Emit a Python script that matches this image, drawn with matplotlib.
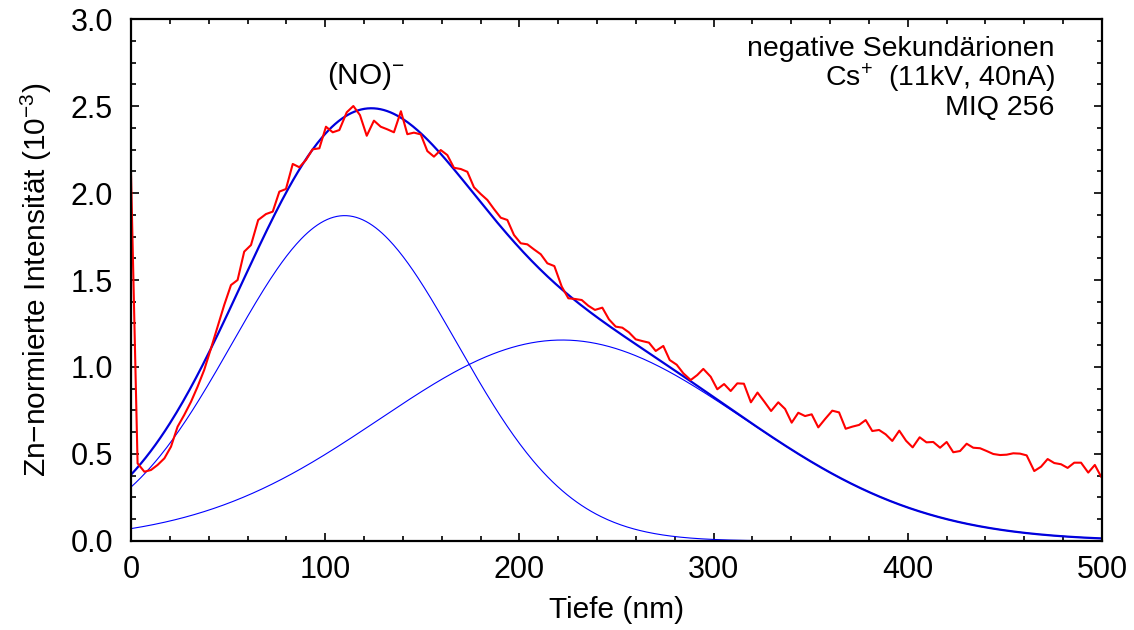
import matplotlib
matplotlib.use("Agg")
import matplotlib.pyplot as plt
import numpy as np
from matplotlib.ticker import MultipleLocator

plt.rcParams['font.family'] = ['Liberation Sans', 'DejaVu Sans']
plt.rcParams['mathtext.fontset'] = 'custom'
plt.rcParams['mathtext.rm'] = 'Liberation Sans'
plt.rcParams['mathtext.it'] = 'Liberation Sans'
plt.rcParams['mathtext.default'] = 'regular'

# Measured profile (depth in nm, normalised intensity in 1e-3)
depth = [0.0, 3.4, 6.9, 10.3, 13.7, 17.2, 20.6, 24.0, 27.4, 30.9, 34.3, 37.7, 41.2,
         44.6, 48.0, 51.5, 54.9, 58.3, 61.8, 65.5, 69.5, 73.0, 76.4, 79.8, 83.3,
         86.7, 90.1, 93.5, 97.0, 100.4, 103.9, 107.3, 111.1, 114.5, 117.9, 121.4,
         125.1, 128.6, 132.0, 135.4, 139.0, 142.3, 145.7, 149.2, 152.6, 156.0,
         159.5, 162.9, 166.3, 169.8, 173.2, 176.6, 180.1, 183.5, 186.9, 190.4,
         193.8, 197.2, 200.7, 204.1, 207.5, 211.0, 214.4, 218.0, 221.8, 225.2,
         228.6, 232.1, 235.5, 238.9, 242.7, 246.1, 249.6, 253.0, 256.4, 259.9,
         263.3, 266.7, 270.2, 274.1, 277.4, 281.0, 284.4, 288.2, 291.6, 294.7,
         298.5, 301.9, 305.4, 308.8, 312.2, 315.6, 319.2, 322.6, 326.1, 329.6,
         333.3, 336.8, 340.2, 343.6, 347.1, 350.5, 353.9, 357.4, 361.1, 364.6,
         368.0, 371.4, 374.9, 378.3, 381.7, 385.2, 388.6, 392.0, 395.6, 399.1,
         402.5, 406.1, 409.6, 413.1, 416.6, 420.0, 423.4, 426.9, 430.3, 433.7,
         437.2, 440.6, 444.0, 447.5, 450.9, 454.3, 457.8, 461.2, 465.1, 468.6,
         472.0, 475.4, 478.9, 482.3, 485.7, 489.2, 492.9, 496.3, 499.5]
intensity = [2.12, 0.446, 0.398, 0.408, 0.437, 0.475, 0.542, 0.657, 0.724, 0.80,
             0.887, 0.983, 1.107, 1.232, 1.356, 1.471, 1.50, 1.663, 1.701, 1.845,
             1.879, 1.893, 2.008, 2.023, 2.167, 2.148, 2.19, 2.251, 2.257, 2.381,
             2.349, 2.362, 2.464, 2.50, 2.448, 2.329, 2.416, 2.381, 2.366, 2.349,
             2.47, 2.338, 2.347, 2.337, 2.241, 2.209, 2.247, 2.218, 2.145, 2.138,
             2.122, 2.033, 1.994, 1.960, 1.908, 1.858, 1.845, 1.759, 1.711, 1.705,
             1.676, 1.648, 1.596, 1.58, 1.462, 1.395, 1.391, 1.385, 1.352, 1.328,
             1.341, 1.274, 1.232, 1.226, 1.199, 1.159, 1.149, 1.140, 1.092, 1.121,
             1.040, 1.013, 0.964, 0.925, 0.954, 0.989, 0.944, 0.872, 0.902, 0.862,
             0.906, 0.904, 0.797, 0.853, 0.801, 0.747, 0.797, 0.759, 0.680, 0.737,
             0.718, 0.728, 0.653, 0.701, 0.749, 0.739, 0.645, 0.657, 0.667, 0.695,
             0.632, 0.638, 0.613, 0.575, 0.634, 0.576, 0.538, 0.596, 0.567, 0.569,
             0.536, 0.569, 0.510, 0.517, 0.559, 0.536, 0.533, 0.517, 0.500, 0.494,
             0.496, 0.504, 0.502, 0.492, 0.402, 0.427, 0.471, 0.448, 0.441, 0.420,
             0.450, 0.450, 0.393, 0.437, 0.37]

# Fitted Gaussian components: amplitude, centre, sigma
comp_amplitude = [1.87, 1.155]
comp_centre = [110.0, 222.0]
comp_sigma = [58.0, 94.0]

x_ticks = [0, 100, 200, 300, 400, 500]
y_ticks = [0.0, 0.5, 1.0, 1.5, 2.0, 2.5, 3.0]

fig = plt.figure(figsize=(11.34, 6.30), dpi=100)
ax = fig.add_axes([0.1155, 0.1413, 0.8563, 0.8285])

xf = np.linspace(0, 500, 600)
comps = [a * np.exp(-(xf - c) ** 2 / (2 * s ** 2))
         for a, c, s in zip(comp_amplitude, comp_centre, comp_sigma)]
for cv in comps:
    ax.plot(xf, cv, color='#0000ff', lw=0.8)
ax.plot(xf, comps[0] + comps[1], color='#0000dd', lw=1.6)
ax.plot(depth, intensity, color='#ff0000', lw=1.5)

ax.set_xlim(0, 500)
ax.set_ylim(0, 3.0)
ax.set_xticks(x_ticks)
ax.set_yticks(y_ticks)
ax.set_yticklabels([f"{v:.1f}" for v in y_ticks])
ax.xaxis.set_minor_locator(MultipleLocator(20))
ax.yaxis.set_minor_locator(MultipleLocator(0.125))
ax.tick_params(which='both', direction='in', top=True, right=True,
               labelsize=22, width=1.2)
ax.tick_params(axis='x', which='both', pad=10)
ax.tick_params(axis='y', which='both', pad=13)
ax.tick_params(which='major', length=6)
ax.tick_params(which='minor', length=3.5)
for sp in ax.spines.values():
    sp.set_linewidth(1.6)

ax.set_xlabel('Tiefe (nm)', fontsize=21.5, labelpad=8)
ax.set_ylabel('Zn\u2212normierte Intensität (10$^{\u22123}$)', fontsize=21.5, labelpad=12)

ax.text(0.951, 0.968,
        'negative Sekundärionen\nCs$^{+}$  (11kV, 40nA)\nMIQ 256',
        transform=ax.transAxes, ha='right', va='top', multialignment='right',
        fontsize=20.5, linespacing=1.0)
ax.text(121, 2.58, '(NO)$^{\u2212}$', ha='center', va='bottom', fontsize=21.5)

fig.savefig('out.png', dpi=100)
